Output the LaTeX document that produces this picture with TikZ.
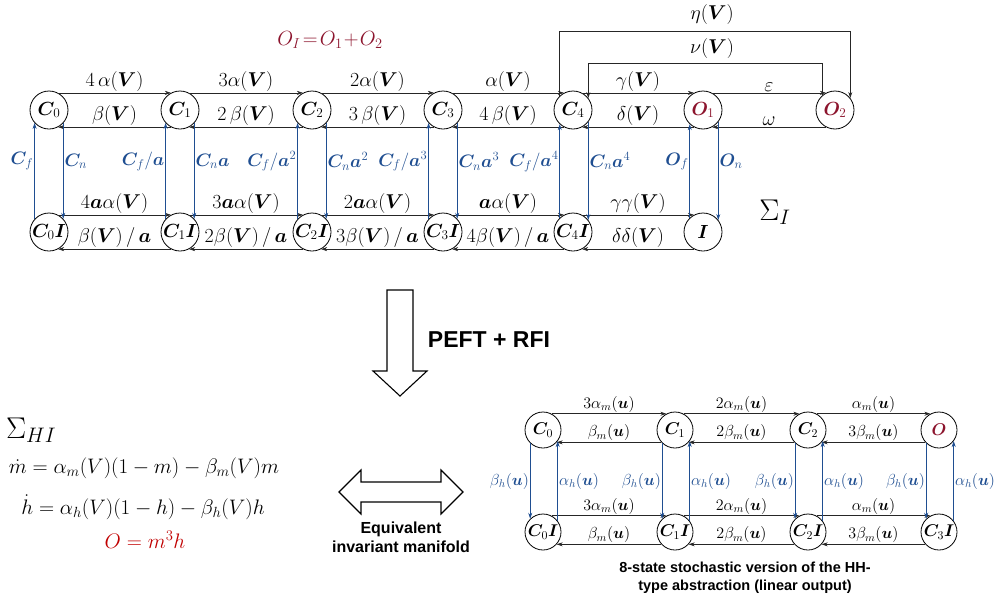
\RequirePackage{fix-cm}
\documentclass[tikz,border=0pt]{standalone}
\usepackage{amsmath}
\usepackage{bm}
\usepackage{fontspec}
\setsansfont{Liberation Sans}
\usetikzlibrary{arrows.meta,calc}
\definecolor{lblue}{RGB}{31,78,145}
\definecolor{maroonc}{RGB}{140,20,45}
\definecolor{ored}{RGB}{192,0,0}
\begin{document}
\begin{tikzpicture}[x=1pt,y=-1pt,
  st/.style={circle,draw,line width=0.8pt,minimum size=38pt,inner sep=0pt,font=\fontsize{19}{21}\selectfont},
  sts/.style={st,minimum size=36pt,font=\fontsize{17}{19}\selectfont},
  arr/.style={-{Stealth[length=6pt,width=4pt]},line width=0.7pt,black!85},
  barr/.style={arr,lblue},
  lab/.style={font=\fontsize{20}{22}\selectfont,inner sep=1pt,text=black},
  labs/.style={font=\fontsize{16}{18}\selectfont,inner sep=1pt,text=black},
  blab/.style={lab,font=\fontsize{18}{20}\selectfont,text=lblue},
  blabs/.style={labs,text=lblue},
  eq/.style={font=\fontsize{21}{23}\selectfont,inner sep=0pt},
  sfl/.style={font=\sffamily\bfseries\fontsize{14.5}{18}\selectfont,align=center,inner sep=0pt}]
\useasboundingbox (0,0) rectangle (1004,600);

% ---------- top diagram nodes ----------
\node[st] (C0) at (49,110) {$\bm{C}_0$};
\node[st] (C1) at (180,110) {$\bm{C}_1$};
\node[st] (C2) at (312,110) {$\bm{C}_2$};
\node[st] (C3) at (443,110) {$\bm{C}_3$};
\node[st] (C4) at (573,110) {$\bm{C}_4$};
\node[st] (O1) at (703,110) {\color{maroonc}$\bm{O}_1$};
\node[st] (O2) at (835,110) {\color{maroonc}$\bm{O}_2$};
\node[st] (C0I) at (49,232) {$\bm{C}_0\bm{I}$};
\node[st] (C1I) at (180,232) {$\bm{C}_1\bm{I}$};
\node[st] (C2I) at (312,232) {$\bm{C}_2\bm{I}$};
\node[st] (C3I) at (443,232) {$\bm{C}_3\bm{I}$};
\node[st] (C4I) at (573,232) {$\bm{C}_4\bm{I}$};
\node[st] (I) at (703,232) {$\bm{I}$};

% top row horizontal
\draw[arr] (C0.62) -- node[lab,above]{$4\,\alpha(\bm{V})$} (C1.118);
\draw[arr] (C1.-118) -- node[lab,above]{$\beta(\bm{V})$} (C0.-62);
\draw[arr] (C1.62) -- node[lab,above]{$3\alpha(\bm{V})$} (C2.118);
\draw[arr] (C2.-118) -- node[lab,above]{$2\,\beta(\bm{V})$} (C1.-62);
\draw[arr] (C2.62) -- node[lab,above]{$2\alpha(\bm{V})$} (C3.118);
\draw[arr] (C3.-118) -- node[lab,above]{$3\,\beta(\bm{V})$} (C2.-62);
\draw[arr] (C3.62) -- node[lab,above]{$\alpha(\bm{V})$} (C4.118);
\draw[arr] (C4.-118) -- node[lab,above]{$4\,\beta(\bm{V})$} (C3.-62);
\draw[arr] (C4.62) -- node[lab,above]{$\gamma(\bm{V})$} (O1.118);
\draw[arr] (O1.-118) -- node[lab,above]{$\delta(\bm{V})$} (C4.-62);
\draw[arr] (O1.62) -- node[lab,above]{$\varepsilon$} (O2.118);
\draw[arr] (O2.-118) -- node[lab,above]{$\omega$} (O1.-62);

% bottom row horizontal
\draw[arr] (C0I.62) -- node[lab,above]{$4\bm{a}\alpha(\bm{V})$} (C1I.118);
\draw[arr] (C1I.-118) -- node[lab,above]{$\beta(\bm{V})\,/\,\bm{a}$} (C0I.-62);
\draw[arr] (C1I.62) -- node[lab,above]{$3\bm{a}\alpha(\bm{V})$} (C2I.118);
\draw[arr] (C2I.-118) -- node[lab,above]{$2\beta(\bm{V})\,/\,\bm{a}$} (C1I.-62);
\draw[arr] (C2I.62) -- node[lab,above]{$2\bm{a}\alpha(\bm{V})$} (C3I.118);
\draw[arr] (C3I.-118) -- node[lab,above]{$3\beta(\bm{V})\,/\,\bm{a}$} (C2I.-62);
\draw[arr] (C3I.62) -- node[lab,above]{$\bm{a}\alpha(\bm{V})$} (C4I.118);
\draw[arr] (C4I.-118) -- node[lab,above]{$4\beta(\bm{V})\,/\,\bm{a}$} (C3I.-62);
\draw[arr] (C4I.62) -- node[lab,above]{$\gamma\gamma(\bm{V})$} (I.118);
\draw[arr] (I.-118) -- node[lab,above]{$\delta\delta(\bm{V})$} (C4I.-62);

% vertical
\draw[barr] (C0I.138) -- node[blab,left,pos=0.6]{$\bm{C}_f$} (C0.-138);
\draw[barr] (C0.-43) -- node[blab,right,pos=0.4]{$\bm{C}_n$} (C0I.43);
\draw[barr] (C1I.138) -- node[blab,left,pos=0.6]{$\bm{C}_f/\bm{a}$} (C1.-138);
\draw[barr] (C1.-43) -- node[blab,right,pos=0.4]{$\bm{C}_n\bm{a}$} (C1I.43);
\draw[barr] (C2I.138) -- node[blab,left,pos=0.6]{$\bm{C}_f/\bm{a}^2$} (C2.-138);
\draw[barr] (C2.-43) -- node[blab,right,pos=0.4]{$\bm{C}_n\bm{a}^2$} (C2I.43);
\draw[barr] (C3I.138) -- node[blab,left,pos=0.6]{$\bm{C}_f/\bm{a}^3$} (C3.-138);
\draw[barr] (C3.-43) -- node[blab,right,pos=0.4]{$\bm{C}_n\bm{a}^3$} (C3I.43);
\draw[barr] (C4I.133) -- node[blab,left,pos=0.6]{$\bm{C}_f/\bm{a}^4$} (C4.-133);
\draw[barr] (C4.-38) -- node[blab,right,pos=0.4]{$\bm{C}_n\bm{a}^4$} (C4I.38);
\draw[barr] (I.133) -- node[blab,left,pos=0.6]{$\bm{O}_f$} (O1.-133);
\draw[barr] (O1.-38) -- node[blab,right,pos=0.4]{$\bm{O}_n$} (I.38);

% loops
\draw[arr] (C4.133) -- ++(0,-64) -| (O2.38);
\draw[arr] (O2.129) -- ++(0,-32) -| (C4.38);
\node[lab] (eta) at (712,14) {$\eta(\bm{V})$};
\node[lab] (nu) at (712,48) {$\nu(\bm{V})$};

\node[font=\fontsize{20.5}{22}\selectfont,text=maroonc] (OI) at (330,40) {$O_I\!=\!O_1\!+\!O_2$};
\node[font=\fontsize{30}{32}\selectfont] (sigI) at (775,212) {$\Sigma_I$};

% ---------- big arrows ----------
\draw[line width=1.1pt] (387,290) -- (413,290) -- (413,371) -- (427,371) -- (400,396) -- (373,371) -- (387,371) -- cycle;
\node[font=\sffamily\bfseries\fontsize{23}{26}\selectfont,inner sep=0pt] (peft) at (489,340) {PEFT + RFI};
\draw[line width=1.1pt] (339,492) -- (361,470) -- (361,482) -- (441,482) -- (441,470) -- (463,492) -- (441,514) -- (441,502) -- (361,502) -- (361,514) -- cycle;
\node[sfl,font=\sffamily\bfseries\fontsize{16}{19}\selectfont] (equiv) at (401,537) {Equivalent\\invariant manifold};

% ---------- left equations ----------
\node[font=\fontsize{30}{32}\selectfont,anchor=west,inner sep=0pt] (sigHI) at (6,430) {$\Sigma_{HI}$};
\node[eq] (e1) at (144,468) {$\dot{m} = \alpha_m(V)(1-m) - \beta_m(V)m$};
\node[eq] (e2) at (143,507) {$\dot{h} = \alpha_h(V)(1-h) - \beta_h(V)h$};
\node[eq,text=ored] (e3) at (145,540) {$O = m^3h$};

% ---------- bottom-right diagram ----------
\node[sts] (D0) at (543,430) {$\bm{C}_0$};
\node[sts] (D1) at (675,430) {$\bm{C}_1$};
\node[sts] (D2) at (808,430) {$\bm{C}_2$};
\node[sts] (DO) at (939,430) {\color{maroonc}$\bm{O}$};
\node[sts] (E0) at (543,532) {$\bm{C}_0\bm{I}$};
\node[sts] (E1) at (675,532) {$\bm{C}_1\bm{I}$};
\node[sts] (E2) at (808,532) {$\bm{C}_2\bm{I}$};
\node[sts] (E3) at (939,532) {$\bm{C}_3\bm{I}$};

\draw[arr] (D0.62) -- node[labs,above]{$3\alpha_m(\bm{u})$} (D1.118);
\draw[arr] (D1.-138) -- node[labs,above]{$\beta_m(\bm{u})$} (D0.-42);
\draw[arr] (D1.62) -- node[labs,above]{$2\alpha_m(\bm{u})$} (D2.118);
\draw[arr] (D2.-138) -- node[labs,above]{$2\beta_m(\bm{u})$} (D1.-42);
\draw[arr] (D2.62) -- node[labs,above]{$\alpha_m(\bm{u})$} (DO.118);
\draw[arr] (DO.-138) -- node[labs,above]{$3\beta_m(\bm{u})$} (D2.-42);
\draw[arr] (E0.62) -- node[labs,above]{$3\alpha_m(\bm{u})$} (E1.118);
\draw[arr] (E1.-138) -- node[labs,above]{$\beta_m(\bm{u})$} (E0.-42);
\draw[arr] (E1.62) -- node[labs,above]{$2\alpha_m(\bm{u})$} (E2.118);
\draw[arr] (E2.-138) -- node[labs,above]{$2\beta_m(\bm{u})$} (E1.-42);
\draw[arr] (E2.62) -- node[labs,above]{$\alpha_m(\bm{u})$} (E3.118);
\draw[arr] (E3.-138) -- node[labs,above]{$3\beta_m(\bm{u})$} (E2.-42);

\draw[barr] (D0.-134) -- node[blabs,left]{$\beta_h(\bm{u})$} (E0.134);
\draw[barr] (E0.37) -- node[blabs,right]{$\alpha_h(\bm{u})$} (D0.-37);
\draw[barr] (D1.-134) -- node[blabs,left]{$\beta_h(\bm{u})$} (E1.134);
\draw[barr] (E1.37) -- node[blabs,right]{$\alpha_h(\bm{u})$} (D1.-37);
\draw[barr] (D2.-134) -- node[blabs,left]{$\beta_h(\bm{u})$} (E2.134);
\draw[barr] (E2.37) -- node[blabs,right]{$\alpha_h(\bm{u})$} (D2.-37);
\draw[barr] (DO.-134) -- node[blabs,left]{$\beta_h(\bm{u})$} (E3.134);
\draw[barr] (E3.37) -- node[blabs,right]{$\alpha_h(\bm{u})$} (DO.-37);

\node[sfl] (cap) at (745,578) {8-state stochastic version of the HH-\\type abstraction (linear output)};
\end{tikzpicture}
\end{document}
